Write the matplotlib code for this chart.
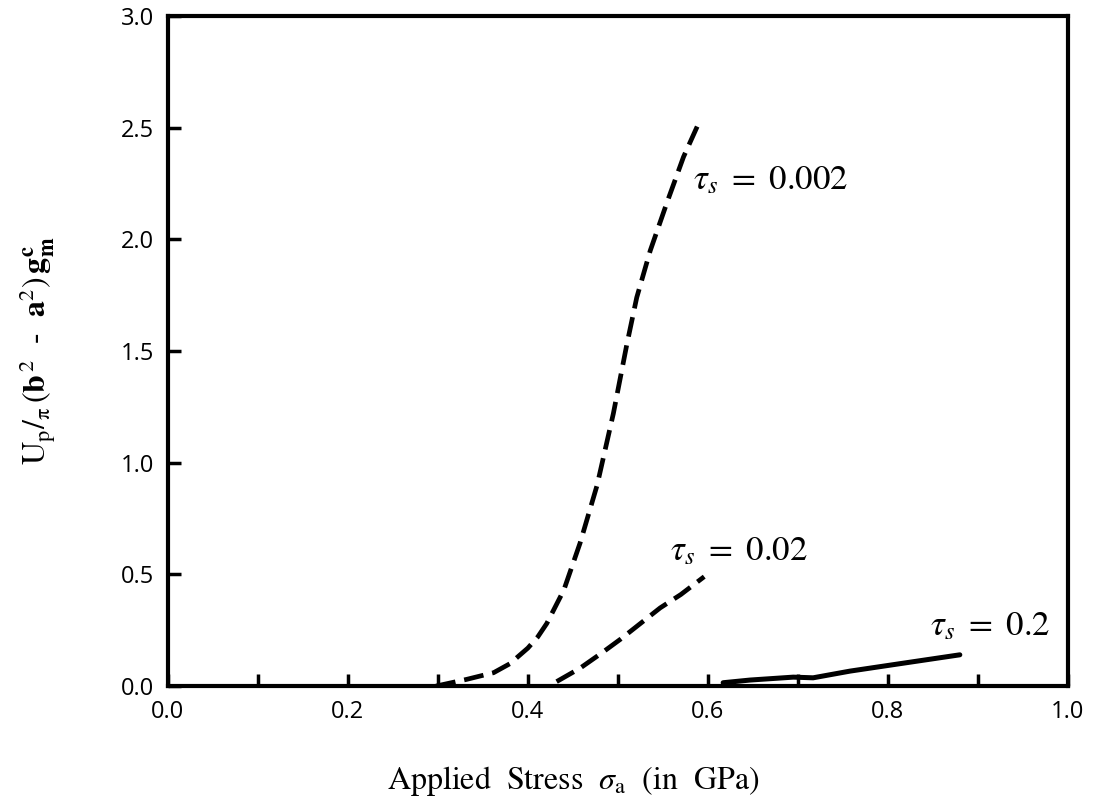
import matplotlib
matplotlib.use("Agg")
import matplotlib.pyplot as plt
from matplotlib.ticker import MultipleLocator

# plastic work vs applied stress for three values of tau_s
stress_a = [0.298, 0.332, 0.362, 0.380, 0.400, 0.411, 0.421, 0.440, 0.458,
            0.477, 0.495, 0.510, 0.521, 0.536, 0.555, 0.573, 0.592]
work_a = [0.0, 0.03, 0.06, 0.10, 0.17, 0.22, 0.28, 0.43, 0.64,
          0.90, 1.22, 1.53, 1.74, 1.95, 2.17, 2.37, 2.54]

stress_b = [0.432, 0.458, 0.481, 0.503, 0.525, 0.547, 0.570, 0.596]
work_b = [0.02, 0.08, 0.145, 0.21, 0.28, 0.35, 0.41, 0.49]

stress_c = [0.617, 0.647, 0.695, 0.717, 0.758, 0.813, 0.880]
work_c = [0.015, 0.027, 0.04, 0.037, 0.067, 0.10, 0.14]

labels = [r"$\tau_s\ =\ 0.002$", r"$\tau_s\ =\ 0.02$", r"$\tau_s\ =\ 0.2$"]

plt.rcParams["mathtext.fontset"] = "stix"
plt.rcParams["font.family"] = "STIXGeneral"

fig = plt.figure(figsize=(10.97, 8.10), dpi=100)
ax = fig.add_axes([0.153, 0.153, 0.8204, 0.827])

dash = (0, (4.2, 1.9))
ax.plot(stress_a, work_a, color="black", lw=3.4, linestyle=dash)
ax.plot(stress_b, work_b, color="black", lw=3.4, linestyle=dash)
ax.plot(stress_c, work_c, color="black", lw=3.6, solid_capstyle="round")

ax.text(0.583, 2.26, labels[0], fontsize=25, va="center")
ax.text(0.558, 0.60, labels[1], fontsize=25, va="center")
ax.text(0.847, 0.265, labels[2], fontsize=25, va="center")

ax.set_xlim(0, 1.0)
ax.set_ylim(0, 3.0)
ax.xaxis.set_major_locator(MultipleLocator(0.2))
ax.xaxis.set_minor_locator(MultipleLocator(0.1))
ax.yaxis.set_major_locator(MultipleLocator(0.5))
ax.tick_params(axis="both", which="both", direction="in", length=9, width=2.5,
               top=False, right=False, labelsize=17)
ax.tick_params(axis="x", pad=10)
ax.tick_params(axis="y", pad=10)
ax.xaxis.set_major_formatter(plt.FuncFormatter(lambda v, p: f"{v:.1f}"))
ax.yaxis.set_major_formatter(plt.FuncFormatter(lambda v, p: f"{v:.1f}"))
for lab in ax.get_xticklabels() + ax.get_yticklabels():
    lab.set_family("Open Sans")

for s in ax.spines.values():
    s.set_linewidth(3)

ylab = (r"$\mathrm{U_p/_{\pi}}\,\left(\mathbf{b}^{\,2}\ \ " + "\u2010"
        + r"\ \ \mathbf{a}^2\right)\,\mathbf{g}_{\mathbf{m}}^{\mathbf{c}}$")
ax.set_xlabel(r"Applied  Stress  $\sigma_{\mathrm{a}}$  (in  GPa)", fontsize=23, va="center")
ax.xaxis.set_label_coords(0.45, -0.142)
ax.set_ylabel(ylab, fontsize=23, va="center")
ax.yaxis.set_label_coords(-0.144, 0.5)

fig.savefig("out.png", dpi=100)
